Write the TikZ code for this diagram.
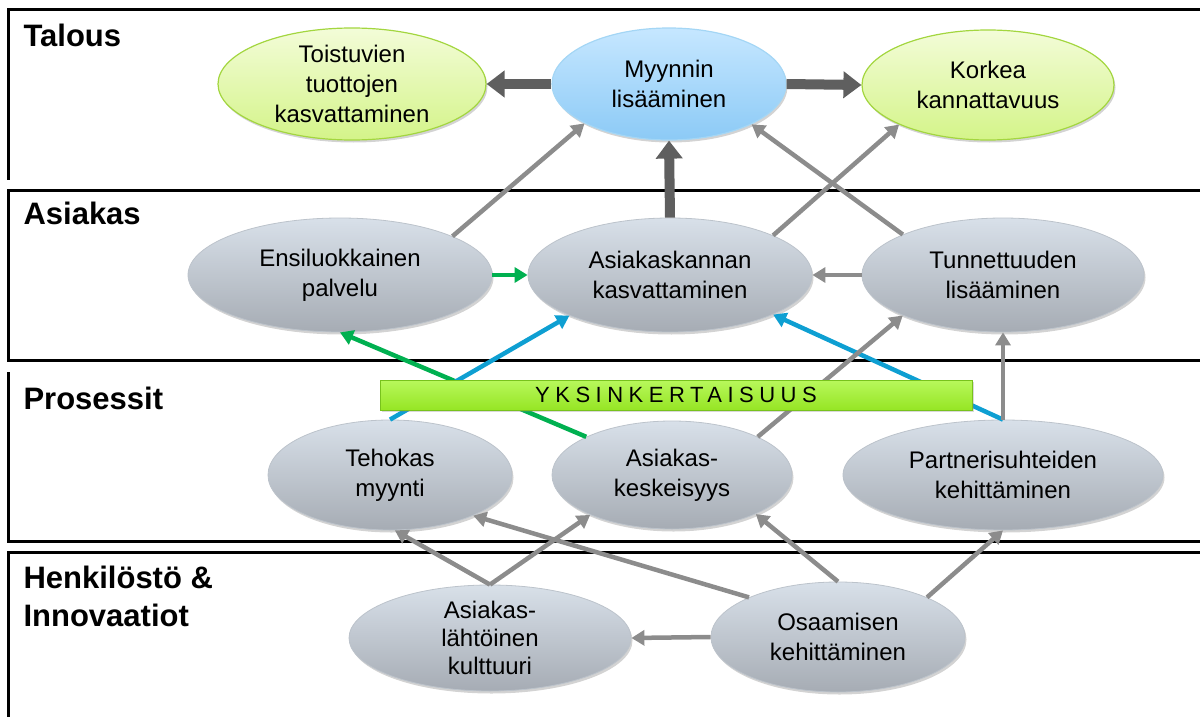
\documentclass[tikz,border=0pt]{standalone}
\usepackage{fontspec}
\setmainfont{Liberation Sans}
\newfontfamily\spacedfont{Liberation Sans}[LetterSpace=25]
\usetikzlibrary{arrows.meta,shapes.geometric,shadows}
\definecolor{ovalTop}{HTML}{D8E0E9}
\definecolor{ovalBot}{HTML}{A6ACB4}
\definecolor{ovalLine}{HTML}{BCC3CB}
\definecolor{limeTop}{HTML}{F3FCD8}
\definecolor{limeBot}{HTML}{D4F489}
\definecolor{limeLine}{HTML}{A3D63F}
\definecolor{skyTop}{HTML}{C6E7FF}
\definecolor{skyBot}{HTML}{8CCAF6}
\definecolor{skyLine}{HTML}{A4D6F5}
\definecolor{arrGray}{HTML}{8C8C8C}
\definecolor{arrDark}{HTML}{5F5F5F}
\definecolor{arrGreen}{HTML}{00B050}
\definecolor{arrBlue}{HTML}{0E9FD2}
\definecolor{barTop}{HTML}{B8F85C}
\definecolor{barBot}{HTML}{96E524}
\definecolor{barLine}{HTML}{78C21C}

\begin{document}
\begin{tikzpicture}[x=1pt, y=-1pt,
    oval/.style={ellipse, shading=axis, top color=ovalTop, bottom color=ovalBot, draw=ovalLine, line width=0.8pt,
        drop shadow={opacity=0.35, shadow xshift=1.5pt, shadow yshift=-2.5pt},
        align=center, inner xsep=0pt, inner ysep=-8pt, font=\fontsize{24}{30}\selectfont},
    limeoval/.style={oval, top color=limeTop, bottom color=limeBot, draw=limeLine, line width=1.2pt},
    skyoval/.style={oval, top color=skyTop, bottom color=skyBot, draw=skyLine, line width=1.2pt},
    band/.style={line width=3pt},
    bandlabel/.style={anchor=base west, font=\bfseries\fontsize{31}{36}\selectfont},
    harmaa/.style={draw=arrGray, line width=4.5pt, -{Triangle[length=13pt,width=15pt]}},
    paksu/.style={draw=arrDark, line width=10pt, -{Triangle[length=18pt,width=26pt]}},
    vihrea/.style={harmaa, draw=arrGreen},
    sininen/.style={harmaa, draw=arrBlue},
    yksbar/.style={shading=axis, top color=barTop, bottom color=barBot, draw=barLine, line width=1pt,
        drop shadow={opacity=0.3, shadow xshift=1.5pt, shadow yshift=-2pt},
        minimum width=592pt, minimum height=30pt, inner sep=0pt, font=\spacedfont\fontsize{22}{24}\selectfont}]
    \useasboundingbox (0,0) rectangle (1200,717);

% bands
    \draw[band] (1200,10) -- (8,10) -- (8,180);
    \draw[band] (1200,190) -- (8,190) -- (8,360) -- (1200,360);
    \draw[band] (8,372) -- (8,541) -- (1200,541);
    \draw[band] (1200,552) -- (8,552) -- (8,717);

    \node[bandlabel] (L1) at (20,47) {Talous};
    \node[bandlabel] (L2) at (20,224) {Asiakas};
    \node[bandlabel] (L3) at (20,409) {Prosessit};
    \node[bandlabel] (L4) at (20,588) {Henkilöstö \&};
    \node[bandlabel] (L5) at (20,626) {Innovaatiot};

% Talous
    \node[limeoval, minimum width=268pt, minimum height=112pt] (T1) at (352,84) {Toistuvien\\tuottojen\\kasvattaminen};
    \node[skyoval, minimum width=234pt, minimum height=112pt] (T2) at (669,84) {Myynnin\\lisääminen};
    \node[limeoval, minimum width=252pt, minimum height=110pt] (T3) at (988,85) {Korkea\\kannattavuus};

% Asiakas
    \node[oval, minimum width=304pt, minimum height=114pt] (A1) at (340,275) {Ensiluokkainen\\palvelu};
    \node[oval, minimum width=284pt, minimum height=114pt] (A2) at (670,275) {Asiakaskannan\\kasvattaminen};
    \node[oval, minimum width=282pt, minimum height=114pt] (A3) at (1003,275) {Tunnettuuden\\lisääminen};

% Prosessit
    \node[oval, minimum width=244pt, minimum height=110pt] (P1) at (390,475) {Tehokas\\myynti};
    \node[oval, minimum width=240pt, minimum height=108pt] (P2) at (672,475) {Asiakas-\\keskeisyys};
    \node[oval, minimum width=320pt, minimum height=110pt] (P3) at (1003,475) {Partnerisuhteiden\\kehittäminen};

% Henkilosto & Innovaatiot
    \node[oval, minimum width=282pt, minimum height=106pt, font=\fontsize{24}{28}\selectfont] (H1) at (490,638) {Asiakas-\\lähtöinen\\kulttuuri};
    \node[oval, minimum width=254pt, minimum height=110pt] (H2) at (838,637) {Osaamisen\\kehittäminen};

% arrows
    \draw[paksu] (T2.west) -- (T1.east);
    \draw[paksu] (T2.east) -- (T3.west);
    \draw[paksu] (A2.north) -- (T2.south);

    \draw[harmaa] (A1.19) -- (T2.205);
    \draw[harmaa] (A2.21) -- (T3.204);
    \draw[harmaa] (A3.158) -- (T2.334);
    \draw[harmaa] (A3.west) -- (A2.east);
    \draw[vihrea] (A1.east) -- (A2.west);

    \draw[vihrea] (P2.156) -- (A1.south);
    \draw[sininen] (P1.north) -- (A2.202);
    \draw[sininen] (P3.north) -- (A2.339);
    \draw[harmaa] (P2.24) -- (A3.202);
    \draw[harmaa] (P3.north) -- (A3.south);

    \draw[harmaa] (H1.north) -- (P1.275);
    \draw[harmaa] (H1.north) -- (P2.206);
    \draw[harmaa] (H2.156) -- (P1.334);
    \draw[harmaa] (H2.north) -- (P2.335);
    \draw[harmaa] (H2.24) -- (P3.south);
    \draw[harmaa] (H2.west) -- (H1.east);

% bar on top
    \node[yksbar] (Y) at (676,395) {YKSINKERTAISUUS};

\end{tikzpicture}
\end{document}
